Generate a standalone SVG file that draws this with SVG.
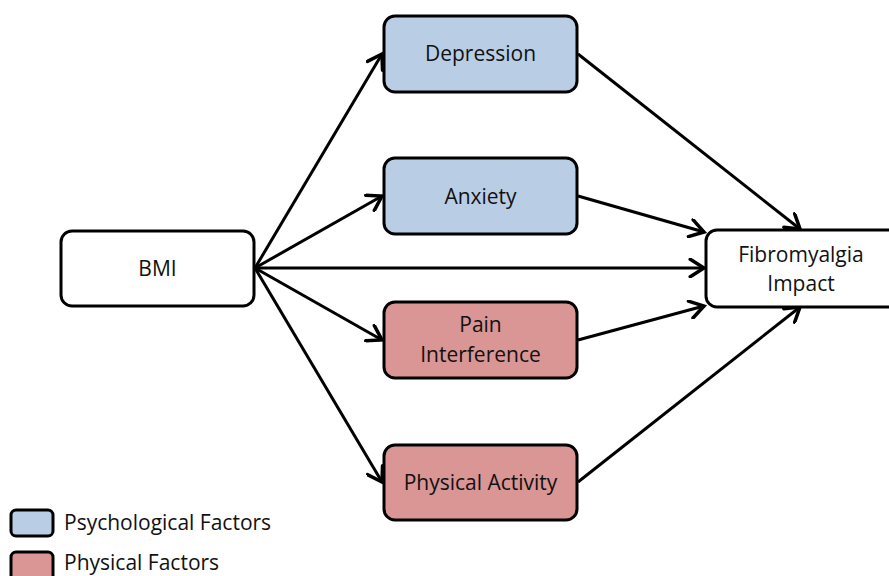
<svg xmlns="http://www.w3.org/2000/svg" width="889" height="576" viewBox="0 0 889 576">
<defs>
<marker id="arr" markerUnits="userSpaceOnUse" markerWidth="20" markerHeight="20" refX="13" refY="8" orient="auto" viewBox="0 0 16 16">
<path d="M2,1 L13,8 L2,15" fill="none" stroke="#000" stroke-width="2.8" stroke-linecap="round" stroke-linejoin="miter"/>
</marker>
</defs>
<style>
.box{stroke:#000;stroke-width:3}
.w{fill:#fff}
.b{fill:#b9cde5}
.r{fill:#d99694}
text{font-family:"Open Sans","Liberation Sans",sans-serif;font-size:21px;fill:#111;text-anchor:middle}
.leg{text-anchor:start}
.c line{stroke:#000;stroke-width:3;marker-end:url(#arr)}
</style>
<rect width="889" height="576" fill="#fff"/>
<g class="c" id="connectors">
<line x1="255" y1="268" x2="382" y2="54"/>
<line x1="255" y1="268" x2="382" y2="196"/>
<line x1="255" y1="268" x2="704" y2="268"/>
<line x1="255" y1="268" x2="382" y2="340"/>
<line x1="255" y1="268" x2="382" y2="482"/>
<line x1="578" y1="54" x2="800" y2="229"/>
<line x1="578" y1="196" x2="704" y2="232"/>
<line x1="578" y1="340" x2="704" y2="306"/>
<line x1="578" y1="482" x2="800" y2="307"/>
</g>
<g id="bmi"><rect class="box w" x="61" y="231" width="193" height="75" rx="11"/><text x="157.5" y="276">BMI</text></g>
<g id="depression"><rect class="box b" x="384" y="16" width="193" height="76" rx="11"/><text x="480.5" y="61">Depression</text></g>
<g id="anxiety"><rect class="box b" x="384" y="158" width="193" height="76" rx="11"/><text x="480.5" y="204">Anxiety</text></g>
<g id="pain"><rect class="box r" x="384" y="302" width="193" height="76" rx="11"/><text x="480.5" y="332">Pain</text><text x="480.5" y="362">Interference</text></g>
<g id="activity"><rect class="box r" x="384" y="445" width="193" height="75" rx="11"/><text x="480.5" y="490">Physical Activity</text></g>
<g id="fibro"><rect class="box w" x="706" y="230" width="194" height="77" rx="11"/><text x="801" y="262">Fibromyalgia</text><text x="801" y="291">Impact</text></g>
<g id="legend">
<rect class="box b" x="11" y="510" width="42" height="26" rx="5"/>
<text class="leg" x="64" y="530">Psychological Factors</text>
<rect class="box r" x="11" y="552" width="42" height="30" rx="5"/>
<text class="leg" x="64" y="570">Physical Factors</text>
</g>
</svg>
